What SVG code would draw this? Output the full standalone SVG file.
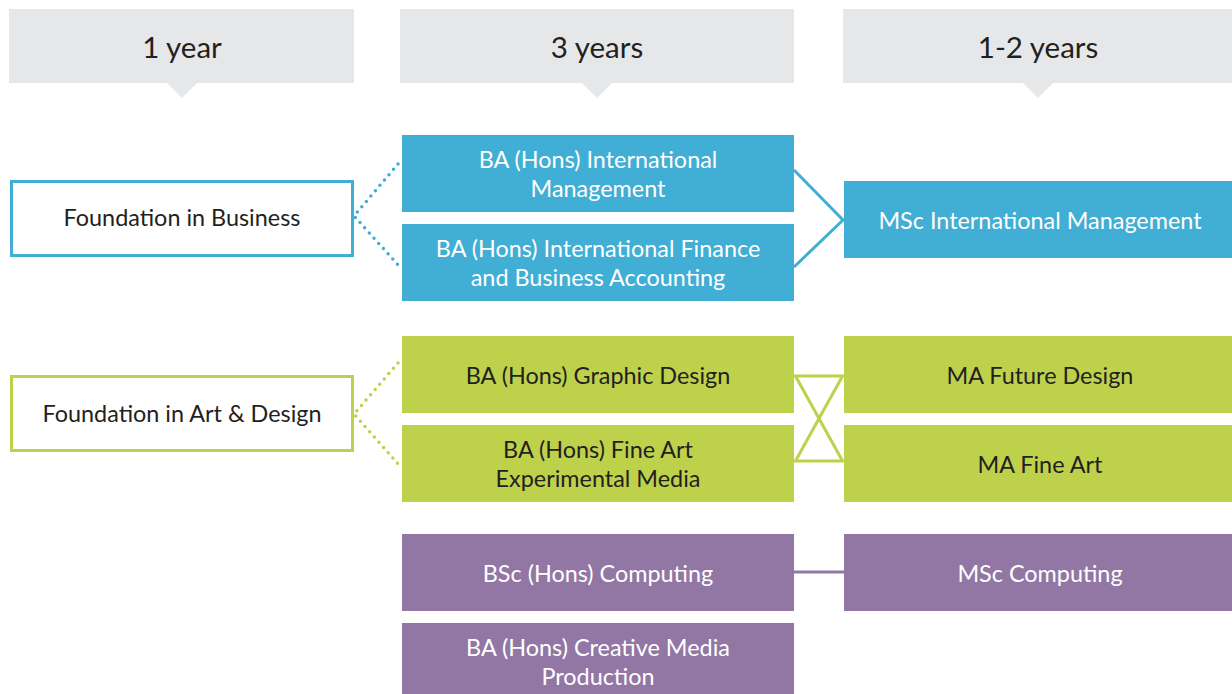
<svg xmlns="http://www.w3.org/2000/svg" width="1232" height="694" viewBox="0 0 1232 694">
<style>
text{font-family:"Lato","Open Sans","Liberation Sans",sans-serif;text-anchor:middle;font-size:23.4px}
.hd{fill:#e6e7e8}
.ht{font-size:29.5px;fill:#231f20}
.blue{fill:#41aed5}
.green{fill:#bed14b}
.purple{fill:#9277a5}
.w{fill:#ffffff}
.d{fill:#231f20}
.fb{fill:#fff;stroke:#41aed5;stroke-width:3}
.fg{fill:#fff;stroke:#bed14b;stroke-width:3}
.dotb{stroke:#41aed5;stroke-width:3.5;stroke-linecap:round;stroke-dasharray:0 7;fill:none}
.dotg{stroke:#bed14b;stroke-width:3.5;stroke-linecap:round;stroke-dasharray:0 7;fill:none}
.lb{stroke:#41aed5;stroke-width:3;fill:none}
.lg{stroke:#bed14b;stroke-width:3;fill:none}
.lp{stroke:#9277a5;stroke-width:3;fill:none}
</style>
<g id="headers">
<g id="h1"><rect class="hd" x="9" y="9" width="345" height="74"/><polygon class="hd" points="167,83 197,83 182,98"/><text class="ht" x="182" y="58">1 year</text></g>
<g id="h2"><rect class="hd" x="400" y="9" width="394" height="74"/><polygon class="hd" points="582,83 612,83 597,98"/><text class="ht" x="597" y="58">3 years</text></g>
<g id="h3"><rect class="hd" x="843" y="9" width="389" height="74"/><polygon class="hd" points="1023,83 1053,83 1038,98"/><text class="ht" x="1038" y="58">1-2 years</text></g>
</g>
<g id="connectors">
<polyline class="dotb" points="398,164 354,216 400,267"/>
<polyline class="dotg" points="398,363 354,414 400,466"/>
<polyline class="lb" points="794,170 843,220 794,267"/>
<line class="lg" x1="794" y1="376" x2="844" y2="376"/>
<line class="lg" x1="794" y1="461" x2="844" y2="461"/>
<line class="lg" x1="796" y1="377" x2="842" y2="460"/>
<line class="lg" x1="842" y1="377" x2="796" y2="460"/>
<line class="lp" x1="794" y1="572" x2="844" y2="572"/>
</g>
<g id="n_found_bus"><rect class="fb" x="11.5" y="181.5" width="341" height="74"/><text class="d" x="182" y="226">Foundation in Business</text></g>
<g id="n_found_art"><rect class="fg" x="11.5" y="376.5" width="341" height="74"/><text class="d" x="182" y="422">Foundation in Art &amp; Design</text></g>
<g id="n_ba_im"><rect class="blue" x="402" y="135" width="392" height="77"/><text class="w" x="598" y="168">BA (Hons) International</text><text class="w" x="598" y="197">Management</text></g>
<g id="n_ba_ifba"><rect class="blue" x="402" y="224" width="392" height="77"/><text class="w" x="598" y="257">BA (Hons) International Finance</text><text class="w" x="598" y="286">and Business Accounting</text></g>
<g id="n_msc_im"><rect class="blue" x="844" y="181" width="388" height="77"/><text class="w" x="1040" y="229">MSc International Management</text></g>
<g id="n_ba_gd"><rect class="green" x="402" y="336" width="392" height="77"/><text class="d" x="598" y="384">BA (Hons) Graphic Design</text></g>
<g id="n_ba_fa"><rect class="green" x="402" y="425" width="392" height="77"/><text class="d" x="598" y="458">BA (Hons) Fine Art</text><text class="d" x="598" y="487">Experimental Media</text></g>
<g id="n_ma_fd"><rect class="green" x="844" y="336" width="388" height="77"/><text class="d" x="1040" y="384">MA Future Design</text></g>
<g id="n_ma_fa"><rect class="green" x="844" y="425" width="388" height="77"/><text class="d" x="1040" y="473">MA Fine Art</text></g>
<g id="n_bsc_c"><rect class="purple" x="402" y="534" width="392" height="77"/><text class="w" x="598" y="582">BSc (Hons) Computing</text></g>
<g id="n_msc_c"><rect class="purple" x="844" y="534" width="388" height="77"/><text class="w" x="1040" y="582">MSc Computing</text></g>
<g id="n_ba_cmp"><rect class="purple" x="402" y="623" width="392" height="71"/><text class="w" x="598" y="656">BA (Hons) Creative Media</text><text class="w" x="598" y="685">Production</text></g>
</svg>
